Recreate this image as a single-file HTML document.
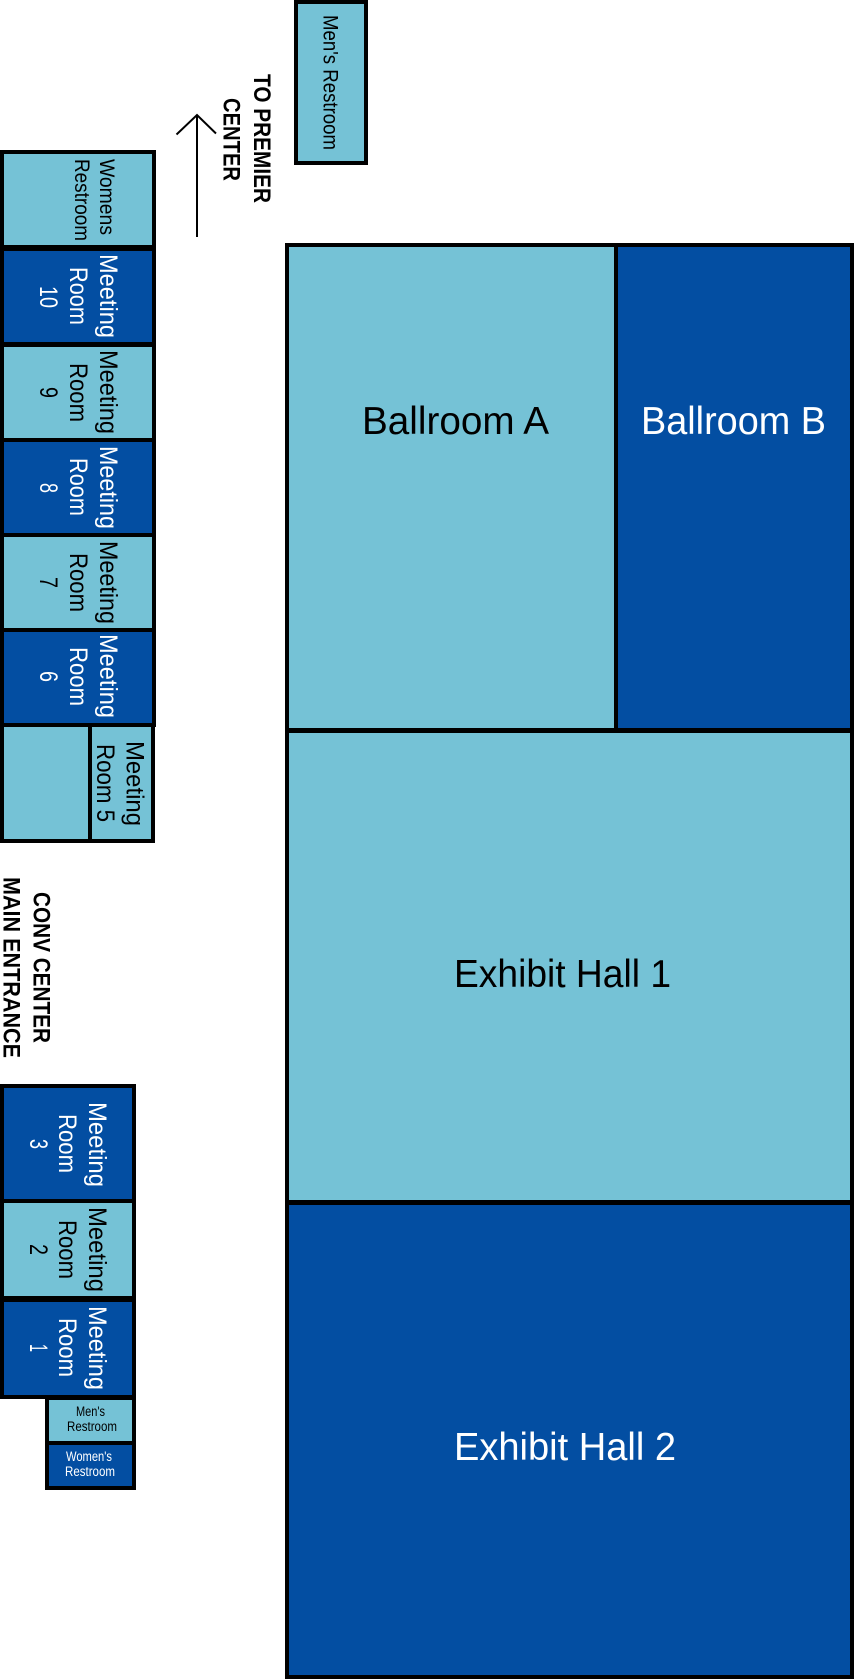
<!DOCTYPE html>
<html>
<head>
<meta charset="utf-8">
<style>
html,body{margin:0;padding:0;background:#fff;width:854px;height:1679px;overflow:hidden}
svg{display:block}
text{font-family:"Liberation Sans",sans-serif}
.k{fill:#000}.w{fill:#fff}.b{font-weight:bold}
</style>
</head>
<body>
<svg xmlns="http://www.w3.org/2000/svg" width="854" height="1679" viewBox="0 0 854 1679">
<rect width="854" height="1679" fill="#fff"/>

<!-- black structure -->
<rect x="294" y="0" width="74" height="165" fill="#000"/>
<rect x="0" y="150" width="156" height="577" fill="#000"/>
<rect x="0" y="723" width="155" height="120" fill="#000"/>
<rect x="285" y="243" width="569" height="1436" fill="#000"/>
<rect x="0" y="1084" width="136" height="315" fill="#000"/>
<rect x="45" y="1395" width="91" height="95" fill="#000"/>

<!-- room fills -->
<g fill="#75c2d6">
<rect x="298" y="4" width="66" height="157"/>
<rect x="4" y="154" width="148" height="91"/>
<rect x="4" y="347" width="148" height="91"/>
<rect x="4" y="537" width="148" height="91"/>
<rect x="4" y="727" width="84" height="112"/>
<rect x="92" y="727" width="59" height="112"/>
<rect x="289" y="247" width="325" height="481"/>
<rect x="289" y="733" width="561" height="467"/>
<rect x="4" y="1203" width="128" height="93"/>
<rect x="49" y="1400" width="83" height="41"/>
</g>
<g fill="#034ea2">
<rect x="4" y="251" width="148" height="91"/>
<rect x="4" y="442" width="148" height="91"/>
<rect x="4" y="632" width="148" height="91"/>
<rect x="618" y="247" width="232" height="481"/>
<rect x="289" y="1205" width="561" height="470"/>
<rect x="4" y="1088" width="128" height="111"/>
<rect x="4" y="1302" width="128" height="93"/>
<rect x="49" y="1445" width="83" height="41"/>
</g>

<!-- arrow -->
<path d="M197 237V116M176.500 134.500L197 115L216 133.500" fill="none" stroke="#000" stroke-width="2"/>

<!-- large labels -->
<text class="k" x="362" y="434" font-size="39" textLength="187" lengthAdjust="spacingAndGlyphs">Ballroom A</text>
<text class="w" x="641" y="434" font-size="39" textLength="185" lengthAdjust="spacingAndGlyphs">Ballroom B</text>
<text class="k" x="454" y="987" font-size="39" textLength="217" lengthAdjust="spacingAndGlyphs">Exhibit Hall 1</text>
<text class="w" x="454" y="1460" font-size="39" textLength="222" lengthAdjust="spacingAndGlyphs">Exhibit Hall 2</text>

<!-- small horizontal labels -->
<text class="k" x="76" y="1416" font-size="13.500" textLength="29" lengthAdjust="spacingAndGlyphs">Men's</text>
<text class="k" x="67" y="1431" font-size="13.500" textLength="50" lengthAdjust="spacingAndGlyphs">Restroom</text>
<text class="w" x="66" y="1461" font-size="13.500" textLength="46" lengthAdjust="spacingAndGlyphs">Women's</text>
<text class="w" x="65" y="1476" font-size="13.500" textLength="50" lengthAdjust="spacingAndGlyphs">Restroom</text>

<!-- rotated labels -->
<text class="k" transform="translate(323.500 15) rotate(90)" font-size="21.500" textLength="135" lengthAdjust="spacingAndGlyphs">Men's Restroom</text>
<text class="k b" transform="translate(254 74) rotate(90)" font-size="24.500" textLength="129" lengthAdjust="spacingAndGlyphs">TO PREMIER</text>
<text class="k b" transform="translate(223.500 98) rotate(90)" font-size="24.500" textLength="83" lengthAdjust="spacingAndGlyphs">CENTER</text>
<text class="k" transform="translate(100 159) rotate(90)" font-size="21.500" textLength="76" lengthAdjust="spacingAndGlyphs">Womens</text>
<text class="k" transform="translate(75 159) rotate(90)" font-size="21.500" textLength="82" lengthAdjust="spacingAndGlyphs">Restroom</text>

<text class="w" transform="translate(100 254) rotate(90)" font-size="25" textLength="84" lengthAdjust="spacingAndGlyphs">Meeting</text>
<text class="w" transform="translate(70 267) rotate(90)" font-size="25" textLength="58" lengthAdjust="spacingAndGlyphs">Room</text>
<text class="w" transform="translate(40 286) rotate(90)" font-size="25" textLength="22" lengthAdjust="spacingAndGlyphs">10</text>

<text class="k" transform="translate(100 350) rotate(90)" font-size="25" textLength="84" lengthAdjust="spacingAndGlyphs">Meeting</text>
<text class="k" transform="translate(70 363) rotate(90)" font-size="25" textLength="59" lengthAdjust="spacingAndGlyphs">Room</text>
<text class="k" transform="translate(40 387) rotate(90)" font-size="25" textLength="11" lengthAdjust="spacingAndGlyphs">9</text>

<text class="w" transform="translate(100 446) rotate(90)" font-size="25" textLength="83" lengthAdjust="spacingAndGlyphs">Meeting</text>
<text class="w" transform="translate(70 458) rotate(90)" font-size="25" textLength="58" lengthAdjust="spacingAndGlyphs">Room</text>
<text class="w" transform="translate(40 483) rotate(90)" font-size="25" textLength="10" lengthAdjust="spacingAndGlyphs">8</text>

<text class="k" transform="translate(100 541) rotate(90)" font-size="25" textLength="83" lengthAdjust="spacingAndGlyphs">Meeting</text>
<text class="k" transform="translate(70 553) rotate(90)" font-size="25" textLength="59" lengthAdjust="spacingAndGlyphs">Room</text>
<text class="k" transform="translate(40 577) rotate(90)" font-size="25" textLength="11" lengthAdjust="spacingAndGlyphs">7</text>

<text class="w" transform="translate(100 634) rotate(90)" font-size="25" textLength="84" lengthAdjust="spacingAndGlyphs">Meeting</text>
<text class="w" transform="translate(70 647) rotate(90)" font-size="25" textLength="59" lengthAdjust="spacingAndGlyphs">Room</text>
<text class="w" transform="translate(40 671) rotate(90)" font-size="25" textLength="11" lengthAdjust="spacingAndGlyphs">6</text>

<text class="k" transform="translate(126.500 741) rotate(90)" font-size="25" textLength="85" lengthAdjust="spacingAndGlyphs">Meeting</text>
<text class="k" transform="translate(97 744) rotate(90)" font-size="25" textLength="78" lengthAdjust="spacingAndGlyphs">Room 5</text>

<text class="k b" transform="translate(33.500 892) rotate(90)" font-size="24.500" textLength="151" lengthAdjust="spacingAndGlyphs">CONV CENTER</text>
<text class="k b" transform="translate(3.500 877) rotate(90)" font-size="24.500" textLength="181" lengthAdjust="spacingAndGlyphs">MAIN ENTRANCE</text>

<text class="w" transform="translate(89 1102) rotate(90)" font-size="25" textLength="85" lengthAdjust="spacingAndGlyphs">Meeting</text>
<text class="w" transform="translate(59 1114) rotate(90)" font-size="25" textLength="59" lengthAdjust="spacingAndGlyphs">Room</text>
<text class="w" transform="translate(30 1139) rotate(90)" font-size="25" textLength="10" lengthAdjust="spacingAndGlyphs">3</text>

<text class="k" transform="translate(89 1207) rotate(90)" font-size="25" textLength="85" lengthAdjust="spacingAndGlyphs">Meeting</text>
<text class="k" transform="translate(59 1220) rotate(90)" font-size="25" textLength="59" lengthAdjust="spacingAndGlyphs">Room</text>
<text class="k" transform="translate(30 1244) rotate(90)" font-size="25" textLength="11" lengthAdjust="spacingAndGlyphs">2</text>

<text class="w" transform="translate(89 1306) rotate(90)" font-size="25" textLength="84" lengthAdjust="spacingAndGlyphs">Meeting</text>
<text class="w" transform="translate(59 1318) rotate(90)" font-size="25" textLength="59" lengthAdjust="spacingAndGlyphs">Room</text>
<text class="w" transform="translate(30 1344) rotate(90)" font-size="25" textLength="8" lengthAdjust="spacingAndGlyphs">1</text>
</svg>
</body>
</html>
